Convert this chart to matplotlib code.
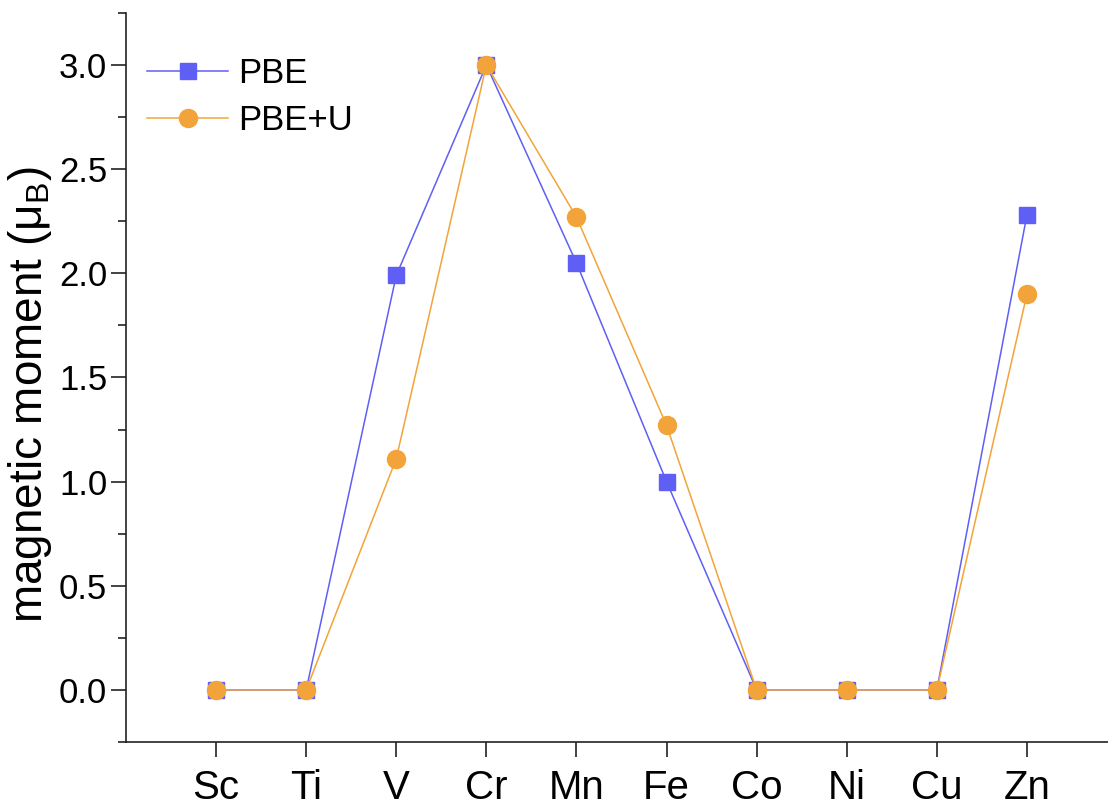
import matplotlib
matplotlib.use('Agg')

import numpy as np
import matplotlib.pyplot as plt
from matplotlib.ticker import MultipleLocator, FormatStrFormatter

plt.rcParams['font.family'] = ['Liberation Sans', 'DejaVu Sans']
plt.rcParams['mathtext.fontset'] = 'custom'
plt.rcParams['mathtext.rm'] = 'Liberation Sans'
plt.rcParams['mathtext.it'] = 'Liberation Sans'

# Data
elements = ['Sc', 'Ti', 'V', 'Cr', 'Mn', 'Fe', 'Co', 'Ni', 'Cu', 'Zn']
pbe = [0.0, 0.0, 1.99, 3.0, 2.05, 1.0, 0.0, 0.0, 0.0, 2.28]
pbe_u = [0.0, 0.0, 1.11, 3.0, 2.27, 1.27, 0.0, 0.0, 0.0, 1.90]

x = np.arange(1, len(elements) + 1)

fig = plt.figure(figsize=(11.08, 8.05), dpi=100)
ax = fig.add_axes([0.1137, 0.0783, 0.8863, 0.9056])

ax.plot(x, pbe, color='#5f5ff5', lw=1.1, marker='s', ms=11.5,
        mec='#5f5ff5', label='PBE', zorder=3)
ax.plot(x, pbe_u, color='#f2a43a', lw=1.1, marker='o', ms=13,
        mec='#f2a43a', label='PBE+U', zorder=4)

ax.set_xlim(0, 10.9)
ax.set_ylim(-0.25, 3.25)
ax.set_xticks(x)
ax.set_xticklabels(elements)
ax.yaxis.set_major_locator(MultipleLocator(0.5))
ax.yaxis.set_minor_locator(MultipleLocator(0.25))
ax.yaxis.set_major_formatter(FormatStrFormatter('%.1f'))

ax.spines['top'].set_visible(False)
ax.spines['right'].set_visible(False)
for s in ('left', 'bottom'):
    ax.spines[s].set_linewidth(1.2)
    ax.spines[s].set_color('#222222')

ax.tick_params(axis='both', which='major', length=10.5, width=1.2,
               color='#222222', pad=3)
ax.tick_params(axis='y', which='minor', length=6, width=1.2, color='#222222')
ax.tick_params(axis='y', which='major', labelsize=25)
ax.tick_params(axis='x', which='major', labelsize=29, pad=9)

ax.set_ylabel(r'magnetic moment ($\mathregular{\mu_B}$)', fontsize=33)
ax.yaxis.set_label_coords(-0.073, 0.477)

ax.legend(loc='upper left', bbox_to_anchor=(0.0075, 0.958), frameon=False,
          borderaxespad=0, fontsize=25, handlelength=2.33, handletextpad=0.3,
          labelspacing=0.4)

plt.savefig('out.png', dpi=100)
